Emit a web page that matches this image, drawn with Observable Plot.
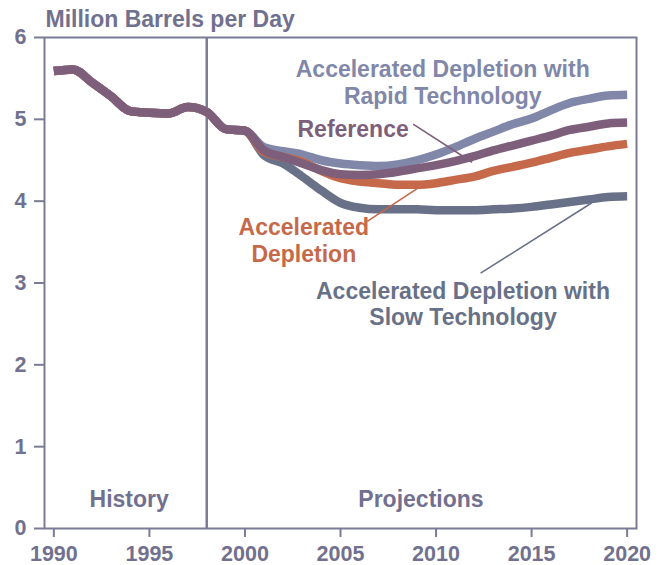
<!DOCTYPE html>
<html><head><meta charset="utf-8">
<script src="https://cdn.jsdelivr.net/npm/d3@7"></script>
<script src="https://cdn.jsdelivr.net/npm/@observablehq/plot@0.6"></script>
<style>body{margin:0;background:#fff} svg{display:block}</style>
</head><body><div id="chart"></div>
<script>
// ---- data ----
const histYears = [1990,1991,1992,1993,1994,1995,1996,1997,1998,1999,2000];
const history   = [5.59,5.61,5.45,5.28,5.10,5.08,5.07,5.15,5.09,4.88,4.86];
const projYears = [2001,2002,2003,2004,2005,2006,2007,2008,2009,2010,2011,2012,2013,2014,2015,2016,2017,2018,2019,2020];
const rapidTech = [4.66,4.61,4.57,4.50,4.46,4.44,4.43,4.45,4.50,4.57,4.66,4.76,4.85,4.94,5.01,5.11,5.20,5.25,5.29,5.30];
const reference = [4.62,4.54,4.46,4.38,4.33,4.32,4.33,4.36,4.40,4.44,4.49,4.55,4.62,4.68,4.74,4.80,4.87,4.91,4.95,4.96];
const accelDepl = [4.60,4.54,4.48,4.37,4.28,4.24,4.22,4.20,4.20,4.22,4.26,4.30,4.37,4.42,4.47,4.53,4.59,4.63,4.67,4.70];
const slowTech  = [4.56,4.46,4.30,4.13,3.98,3.92,3.90,3.90,3.90,3.89,3.89,3.89,3.90,3.91,3.93,3.96,3.99,4.02,4.05,4.06];
const seriesNames = ["Slow", "Rapid", "Accelerated", "Reference"];
const seriesValues = [slowTech, rapidTech, accelDepl, reference];
const xTicks = [1990,1995,2000,2005,2010,2015,2020];
const yTicks = [0,1,2,3,4,5,6];
const yTitle = "Million Barrels per Day";
const dividerYear = 1998;
const periodLabels = [
  {text: "History", x: 1993.94},
  {text: "Projections", x: 2009.21}
];
const seriesLabels = [
  {s: "Rapid", text: "Accelerated Depletion with", x: 2010.35, y: 5.512},
  {s: "Rapid", text: "Rapid Technology", x: 2010.35, y: 5.187},
  {s: "Reference", text: "Reference", x: 2005.66, y: 4.788},
  {s: "Accelerated", text: "Accelerated", x: 2003.08, y: 3.588},
  {s: "Accelerated", text: "Depletion", x: 2003.08, y: 3.256},
  {s: "Slow", text: "Accelerated Depletion with", x: 2011.41, y: 2.807},
  {s: "Slow", text: "Slow Technology", x: 2011.41, y: 2.481}
];
const pointers = [
  {s: "Reference", x1: 2008.80, y1: 4.941, x2: 2011.89, y2: 4.475},
  {s: "Accelerated", x1: 2006.40, y1: 3.754, x2: 2009.13, y2: 4.172},
  {s: "Slow", x1: 2012.33, y1: 3.120, x2: 2018.14, y2: 3.977}
];

// ---- styles ----
const colors = {Slow: "#687188", Rapid: "#8187a9", Accelerated: "#c5694a", Reference: "#7d5e7b"};
const textColor = "#71718f";
const frameColor = "#7b7b97";
const font = "'Liberation Sans', Arial, sans-serif";

const rows = [];
seriesNames.forEach((name, k) => {
  histYears.forEach((yr, i) => rows.push({series: name, year: yr, value: history[i]}));
  projYears.forEach((yr, i) => rows.push({series: name, year: yr, value: seriesValues[k][i]}));
});

const chart = Plot.plot({
  width: 663,
  height: 565,
  marginLeft: 44,
  marginRight: 27,
  marginTop: 37,
  marginBottom: 37,
  style: {fontFamily: font, background: "#fff"},
  x: {domain: [1989.51, 2020.49]},
  y: {domain: [0, 6]},
  color: {domain: seriesNames, range: seriesNames.map(n => colors[n])},
  marks: [
    Plot.axisX({ticks: xTicks, tickFormat: d => String(d), tickSize: 9, tickPadding: 8,
      fontSize: 21.5, fontWeight: "bold", fill: textColor, stroke: frameColor, strokeWidth: 2, label: null}),
    Plot.axisY({ticks: yTicks, tickFormat: d => String(d), tickSize: 10, tickPadding: 8,
      fontSize: 21.5, fontWeight: "bold", fill: textColor, stroke: frameColor, strokeWidth: 2, label: null}),
    Plot.frame({stroke: frameColor, strokeWidth: 2}),
    Plot.ruleX([dividerYear], {stroke: frameColor, strokeWidth: 2.5}),
    Plot.line(rows, {x: "year", y: "value", z: "series", stroke: "series", strokeWidth: 8.5,
      curve: "monotone-x", strokeLinecap: "butt", strokeLinejoin: "round"}),
    Plot.link(pointers, {x1: "x1", y1: "y1", x2: "x2", y2: "y2", stroke: d => d.s, strokeWidth: 1.6}),
    Plot.text(seriesLabels, {x: "x", y: "y", text: "text", fill: d => d.s, fontSize: 23,
      fontWeight: "bold", lineAnchor: "bottom", textAnchor: "middle"}),
    Plot.text(periodLabels, {x: "x", y: () => 0.26, text: "text", fill: textColor, fontSize: 23,
      fontWeight: "bold", lineAnchor: "bottom", textAnchor: "middle"}),
    Plot.text([yTitle], {frameAnchor: "top-left", dx: 1, dy: -11, textAnchor: "start", lineAnchor: "bottom",
      fill: textColor, fontSize: 23, fontWeight: "bold"})
  ]
});
document.getElementById("chart").append(chart);
</script>
</body></html>
